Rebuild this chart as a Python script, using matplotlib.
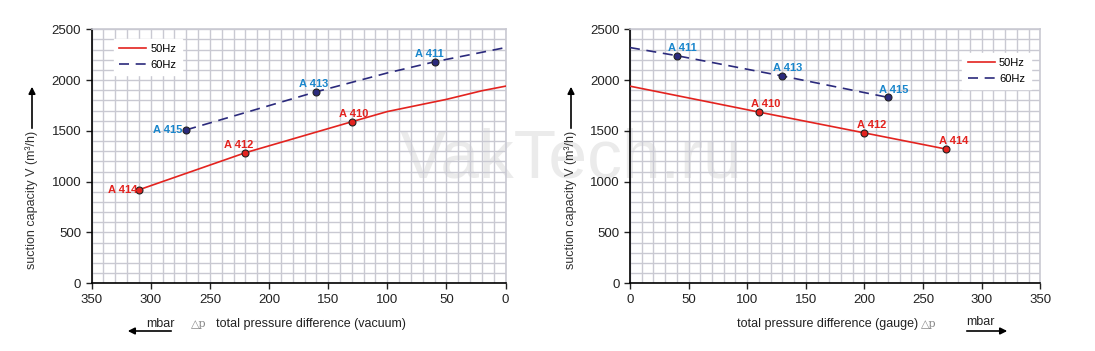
import matplotlib.pyplot as plt
from matplotlib.ticker import MultipleLocator

plt.rcParams["font.family"] = ["Liberation Sans", "DejaVu Sans"]

# vacuum side (left)
vac_50_x = [310, 220, 130, 100, 50, 20, 0]
vac_50_y = [920, 1285, 1590, 1690, 1810, 1895, 1940]
vac_60_x = [270, 220, 160, 100, 60, 0]
vac_60_y = [1510, 1680, 1885, 2070, 2180, 2320]
vac_pts_50 = {"A 414": (310, 920), "A 412": (220, 1285), "A 410": (130, 1590)}
vac_pts_60 = {"A 415": (270, 1510), "A 413": (160, 1885), "A 411": (60, 2180)}

# gauge side (right)
gau_50_x = [0, 110, 200, 270]
gau_50_y = [1940, 1685, 1480, 1320]
gau_60_x = [0, 40, 130, 220]
gau_60_y = [2320, 2240, 2040, 1830]
gau_pts_50 = {"A 410": (110, 1685), "A 412": (200, 1480), "A 414": (270, 1320)}
gau_pts_60 = {"A 411": (40, 2240), "A 413": (130, 2040), "A 415": (220, 1830)}

RED = "#e3231f"
NAVY = "#2b2a7c"
BLUE = "#1a86cc"
GRID = "#c9c9d2"
LBL = dict(fontsize=8, fontweight="bold")

fig = plt.figure(figsize=(10.95, 3.51), dpi=100)
ax1 = fig.add_axes([0.0837, 0.193, 0.378, 0.7236])
ax2 = fig.add_axes([0.5753, 0.193, 0.3747, 0.7236])


def style_axes(ax):
    ax.set_xlim(0, 350)
    ax.set_ylim(0, 2500)
    ax.xaxis.set_major_locator(MultipleLocator(50))
    ax.yaxis.set_major_locator(MultipleLocator(500))
    ax.xaxis.set_minor_locator(MultipleLocator(10))
    ax.yaxis.set_minor_locator(MultipleLocator(100))
    ax.grid(which="both", color=GRID, lw=1.0, zorder=0)
    ax.set_axisbelow(True)
    ax.set_facecolor("none")
    ax.tick_params(which="minor", length=0)
    ax.tick_params(which="major", length=4, width=1, labelsize=9.5, colors="#222222")
    for s in ["top", "right"]:
        ax.spines[s].set_color(GRID)
        ax.spines[s].set_linewidth(1.2)
    for s in ["left", "bottom"]:
        ax.spines[s].set_color("black")
        ax.spines[s].set_linewidth(1.2)


def label(ax, name, xy, dx, dy, color, ha="center", va="bottom"):
    ax.annotate(name, xy, xytext=(dx, dy), textcoords="offset points",
                ha=ha, va=va, color=color, zorder=5, **LBL)


def legend(ax, anchor, loc):
    leg = ax.legend(loc=loc, bbox_to_anchor=anchor, frameon=True, fancybox=False,
                    edgecolor="white", framealpha=1, fontsize=8, handlelength=2.4,
                    handletextpad=0.4, borderpad=0.5, labelspacing=0.5)
    leg.set_zorder(6)


# left chart
style_axes(ax1)
ax1.invert_xaxis()
ax1.plot(vac_50_x, vac_50_y, color=RED, lw=1.2, zorder=3, label="50Hz")
ax1.plot(vac_60_x, vac_60_y, color=NAVY, lw=1.2, ls=(0, (6, 4)), zorder=3, label="60Hz")
for name, (x, y) in vac_pts_50.items():
    ax1.plot(x, y, "o", ms=5, mfc=RED, mec="#222222", mew=0.8, zorder=4)
for name, (x, y) in vac_pts_60.items():
    ax1.plot(x, y, "o", ms=5, mfc=NAVY, mec="#222222", mew=0.8, zorder=4)
label(ax1, "A 414", vac_pts_50["A 414"], -1, 0, RED, ha="right", va="center")
label(ax1, "A 412", vac_pts_50["A 412"], -5, 2, RED)
label(ax1, "A 410", vac_pts_50["A 410"], 1, 2, RED)
label(ax1, "A 415", vac_pts_60["A 415"], -3, 0, BLUE, ha="right", va="center")
label(ax1, "A 413", vac_pts_60["A 413"], -2, 2, BLUE)
label(ax1, "A 411", vac_pts_60["A 411"], -4, 2, BLUE)
legend(ax1, (0.04, 0.985), "upper left")

# right chart
style_axes(ax2)
ax2.plot(gau_50_x, gau_50_y, color=RED, lw=1.2, zorder=3, label="50Hz")
ax2.plot(gau_60_x, gau_60_y, color=NAVY, lw=1.2, ls=(0, (6, 4)), zorder=3, label="60Hz")
for name, (x, y) in gau_pts_50.items():
    ax2.plot(x, y, "o", ms=5, mfc=RED, mec="#222222", mew=0.8, zorder=4)
    label(ax2, name, (x, y), 5, 2, RED)
for name, (x, y) in gau_pts_60.items():
    ax2.plot(x, y, "o", ms=5, mfc=NAVY, mec="#222222", mew=0.8, zorder=4)
    label(ax2, name, (x, y), 4, 2, BLUE)
legend(ax2, (0.99, 0.93), "upper right")

# watermark, kept behind the axes so spines and labels stay on top
fig.text(571 / 1095, 1 - 160 / 351, "VakTech.ru", ha="center", va="center",
         fontsize=50, color="#ebebeb", zorder=-1)

# y labels with arrows
for xl in [32 / 1095, 571 / 1095]:
    fig.text(xl, 1 - 131 / 351, "suction capacity V (m\u00b3/h)", rotation=90, ha="center",
             va="top", fontsize=9, color="#333333", zorder=3)
    fig.add_artist(plt.Annotation("", xy=(xl, 1 - 84 / 351), xytext=(xl, 1 - 131 / 351),
                                  xycoords="figure fraction", zorder=3,
                                  arrowprops=dict(arrowstyle="-|>", color="black",
                                                  lw=1.2, mutation_scale=10)))

# x labels
fig.text(199 / 1095, 1 - 324 / 351, "\u25b3p", ha="center", va="center",
         fontsize=8, color="#888888", family="DejaVu Serif")
fig.text(216 / 1095, 1 - 324 / 351, "total pressure difference (vacuum)", ha="left",
         va="center", fontsize=9, color="#222222")
fig.text(146 / 1095, 1 - 324 / 351, "mbar", ha="left", va="center", fontsize=9,
         color="#222222")
fig.add_artist(plt.Annotation("", xy=(125 / 1095, 1 - 331 / 351), xytext=(174 / 1095, 1 - 331 / 351),
                              xycoords="figure fraction",
                              arrowprops=dict(arrowstyle="-|>", color="black", lw=1.2,
                                              mutation_scale=10)))

fig.text(918 / 1095, 1 - 324 / 351, "total pressure difference (gauge)", ha="right",
         va="center", fontsize=9, color="#222222")
fig.text(929 / 1095, 1 - 324 / 351, "\u25b3p", ha="center", va="center",
         fontsize=8, color="#888888", family="DejaVu Serif")
fig.text(966 / 1095, 1 - 322 / 351, "mbar", ha="left", va="center", fontsize=9,
         color="#222222")
fig.add_artist(plt.Annotation("", xy=(1010 / 1095, 1 - 331 / 351), xytext=(964 / 1095, 1 - 331 / 351),
                              xycoords="figure fraction",
                              arrowprops=dict(arrowstyle="-|>", color="black", lw=1.2,
                                              mutation_scale=10)))

fig.savefig("out.png", dpi=100, facecolor="white")
